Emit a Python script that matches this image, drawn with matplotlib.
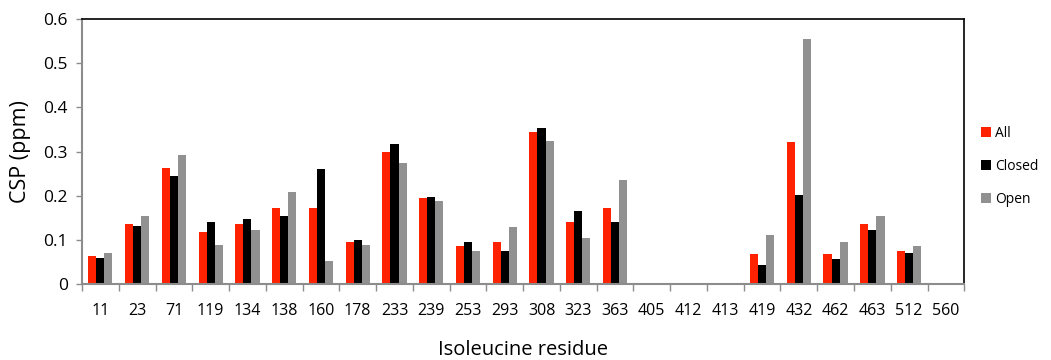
import numpy as np
import matplotlib
matplotlib.use("Agg")
import matplotlib.pyplot as plt

plt.rcParams['font.family'] = ['Open Sans', 'DejaVu Sans']

residues = ["11", "23", "71", "119", "134", "138", "160", "178", "233", "239",
            "253", "293", "308", "323", "363", "405", "412", "413", "419", "432",
            "462", "463", "512", "560"]

csp_all = [0.064, 0.136, 0.263, 0.118, 0.136, 0.173, 0.173, 0.096, 0.300, 0.195,
           0.086, 0.096, 0.344, 0.140, 0.173, 0.0, 0.0, 0.0, 0.067, 0.322,
           0.067, 0.136, 0.075, 0.0]
csp_closed = [0.060, 0.132, 0.245, 0.140, 0.147, 0.154, 0.260, 0.100, 0.318, 0.198,
              0.096, 0.075, 0.354, 0.166, 0.140, 0.0, 0.0, 0.0, 0.042, 0.202,
              0.057, 0.122, 0.071, 0.0]
csp_open = [0.070, 0.154, 0.293, 0.089, 0.122, 0.209, 0.053, 0.089, 0.275, 0.187,
            0.075, 0.129, 0.325, 0.104, 0.235, 0.0, 0.0, 0.0, 0.111, 0.554,
            0.096, 0.154, 0.086, 0.0]

series = [("All", csp_all, "#FF2200"),
          ("Closed", csp_closed, "#000000"),
          ("Open", csp_open, "#919191")]

fig = plt.figure(figsize=(10.51, 3.60), dpi=100)
ax = fig.add_axes([0.078, 0.211, 0.8395, 0.736])

x = np.arange(len(residues))
w = 0.22
for i, (name, vals, col) in enumerate(series):
    ax.bar(x + (i - 1) * w, vals, width=w, color=col, label=name, zorder=2)

ax.set_xlim(-0.5, len(residues) - 0.5)
ax.set_ylim(0, 0.6)
ax.set_yticks(np.arange(0, 0.61, 0.1))
ax.set_yticklabels(["0", "0.1", "0.2", "0.3", "0.4", "0.5", "0.6"])

# category labels centred, tick marks at group boundaries
ax.set_xticks(x)
ax.set_xticklabels(residues)
ax.set_xticks(np.arange(-0.5, len(residues), 1.0), minor=True)
ax.tick_params(axis='x', which='major', length=0, pad=14, labelsize=11.5)
ax.tick_params(axis='x', which='minor', length=5, color='#8c8c8c', width=1, direction='out')
ax.tick_params(axis='y', length=4, color='#8c8c8c', width=1, labelsize=12.5, pad=6)

for side in ("left", "bottom"):
    ax.spines[side].set_color('#8c8c8c')
    ax.spines[side].set_linewidth(1.5)
for side in ("top", "right"):
    ax.spines[side].set_color('#000000')
    ax.spines[side].set_linewidth(1.2)

ax.set_ylabel("CSP (ppm)", fontsize=15.5, labelpad=9)
ax.set_xlabel("Isoleucine residue", fontsize=14.5, labelpad=15)

ax.legend(loc='center left', bbox_to_anchor=(1.005, 0.445), frameon=False,
          fontsize=10, handlelength=0.7, handleheight=0.7, handletextpad=0.3,
          labelspacing=1.3)

fig.savefig("out.png", dpi=100)
